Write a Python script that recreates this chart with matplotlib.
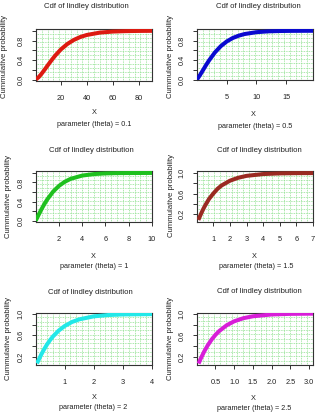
import matplotlib
matplotlib.use("Agg")
import matplotlib.pyplot as plt

plt.rcParams['font.family'] = ['Liberation Sans', 'DejaVu Sans']

W, H = 319, 415

thetas = ["0.1", "0.5", "1", "1.5", "2", "2.5"]
colors = ["#dd1a10", "#0a0ad0", "#1ec01e", "#9a2a22", "#22e8e8", "#d81ed8"]

x1 = [1, 3, 5, 8, 10, 13, 16, 20, 25, 30, 35, 40, 50, 60, 70, 80, 90]
y1 = [0.013, 0.057, 0.118, 0.224, 0.298, 0.405, 0.504, 0.619, 0.731, 0.814,
      0.874, 0.915, 0.963, 0.984, 0.993, 0.997, 0.999]
x2 = [0, 0.5, 1, 1.5, 2, 3, 4, 5, 6, 7, 8, 10, 12, 14, 16, 19.5]
y2 = [0.0, 0.091, 0.191, 0.292, 0.387, 0.554, 0.684, 0.781, 0.851, 0.899,
      0.933, 0.971, 0.988, 0.995, 0.998, 1.0]
x3 = [0, 0.25, 0.5, 0.75, 1, 1.5, 2, 2.5, 3, 4, 5, 6, 7, 8, 10]
y3 = [0.0, 0.124, 0.242, 0.351, 0.448, 0.610, 0.729, 0.815, 0.876, 0.945,
      0.976, 0.990, 0.996, 0.998, 1.0]
x4 = [0.1, 0.2, 0.3, 0.4, 0.5, 0.75, 1, 1.25, 1.5, 2, 2.5, 3, 4, 5, 6, 7]
y4 = [0.085, 0.160, 0.232, 0.300, 0.362, 0.498, 0.600, 0.691, 0.758, 0.850,
      0.908, 0.945, 0.980, 0.993, 0.998, 0.999]
x5 = [0.05, 0.1, 0.2, 0.3, 0.4, 0.5, 0.6, 0.8, 1.0, 1.25, 1.5, 2, 2.5, 3, 4]
y5 = [0.07, 0.127, 0.240, 0.341, 0.431, 0.509, 0.578, 0.690, 0.774, 0.850,
      0.900, 0.957, 0.982, 0.993, 0.999]
x6 = [0.05, 0.1, 0.2, 0.3, 0.4, 0.5, 0.6, 0.8, 1.0, 1.25, 1.5, 2, 2.5, 3.1]
y6 = [0.086, 0.166, 0.307, 0.426, 0.527, 0.611, 0.681, 0.787, 0.859, 0.917,
      0.951, 0.984, 0.995, 0.999]

xs = [x1, x2, x3, x4, x5, x6]
ys = [y1, y2, y3, y4, y5, y6]

xticks = [[20, 40, 60, 80], [5, 10, 15], [2, 4, 6, 8, 10],
          [1, 2, 3, 4, 5, 6, 7], [1, 2, 3, 4], [0.5, 1.0, 1.5, 2.0, 2.5, 3.0]]
xticklabels = [["20", "40", "60", "80"], ["5", "10", "15"],
               ["2", "4", "6", "8", "10"], ["1", "2", "3", "4", "5", "6", "7"],
               ["1", "2", "3", "4"], ["0.5", "1.0", "1.5", "2.0", "2.5", "3.0"]]
yticks_a = [0.0, 0.2, 0.4, 0.6, 0.8, 1.0]
ylabels_a = ["0.0", "", "0.4", "", "0.8", ""]
yticks_b = [0.2, 0.4, 0.6, 0.8, 1.0]
ylabels_b = ["0.2", "", "0.6", "", "1.0"]

# layout (pixels)
xlims = [(1, 90), (0, 19.5), (0, 10), (0, 7), (0, 4), (0, 3.1)]
ylims = [(-0.02, 1.03), (-0.02, 1.03), (-0.02, 1.03), (0.05, 1.03), (0.04, 1.02), (0.06, 1.02)]
boxes = [(36, 29.3, 152, 81), (197, 29.3, 313, 80.5),
         (35.7, 171.5, 152, 221.7), (196.7, 171.5, 313, 221.7),
         (35.5, 313, 152, 365), (196.7, 312.5, 313, 365)]
title_pos = [(86, 7), (258, 7), (91, 150), (259, 150.5), (90.7, 292.7), (259.7, 291.7)]
xlab_pos = [(94, 113), (253.7, 115), (93, 256), (254.3, 257), (94.3, 397), (253.3, 398)]
par_pos = [(94, 125), (254.7, 127), (94, 266), (256, 267), (93.3, 407.7), (254, 408.3)]
ylab_pos = [(5, 57), (170, 57), (8.3, 196.7), (171.7, 195), (8.3, 338), (170.7, 338)]

fig = plt.figure(figsize=(W / 100, H / 100), dpi=100)
fig.patch.set_facecolor("white")
tc = "#222222"

for i in range(6):
    l, t, r, b = boxes[i]
    ax = fig.add_axes([l / W, 1 - b / H, (r - l) / W, (b - t) / H])
    x0, x1_ = xlims[i]
    y0, y1_ = ylims[i]
    # green dotted grid
    nx, ny = 20, 12
    for k in range(1, nx):
        gx = x0 + (x1_ - x0) * k / nx
        ax.axvline(gx, color="#8fe08f", lw=0.6, ls=(0, (1, 1)), zorder=1)
    for k in range(1, ny):
        gy = y0 + (y1_ - y0) * k / ny
        ax.axhline(gy, color="#8fe08f", lw=0.6, ls=(0, (1, 1)), zorder=1)
    ax.plot(xs[i], ys[i], color=colors[i], lw=2.9, solid_capstyle="butt", zorder=3)
    ax.set_xlim(x0, x1_)
    ax.set_ylim(y0, y1_)
    ax.set_xticks(xticks[i])
    ax.set_xticklabels(xticklabels[i])
    if i < 3:
        ax.set_yticks(yticks_a)
        ax.set_yticklabels(ylabels_a, rotation=90, va="center")
    else:
        ax.set_yticks(yticks_b)
        ax.set_yticklabels(ylabels_b, rotation=90, va="center")
    ax.tick_params(direction="out", length=3, width=0.7, colors="#333333",
                   labelsize=5.3, labelcolor=tc)
    ax.tick_params(axis="x", pad=7)
    ax.tick_params(axis="y", pad=5)
    for s in ax.spines.values():
        s.set_color("#333333")
        s.set_linewidth(0.8)

    fig.text(title_pos[i][0] / W, 1 - title_pos[i][1] / H, "Cdf of lindley distribution",
             ha="center", va="center", fontsize=5.6, color=tc)
    fig.text(xlab_pos[i][0] / W, 1 - xlab_pos[i][1] / H, "X",
             ha="center", va="center", fontsize=5.3, color=tc)
    fig.text(par_pos[i][0] / W, 1 - par_pos[i][1] / H, "parameter (theta) = " + thetas[i],
             ha="center", va="center", fontsize=5.2, color=tc)
    fig.text(ylab_pos[i][0] / W, 1 - ylab_pos[i][1] / H, "Cummulative probability",
             ha="center", va="center", rotation=90, fontsize=5.6, color=tc)

fig.savefig("out.png", dpi=100, facecolor="white")
